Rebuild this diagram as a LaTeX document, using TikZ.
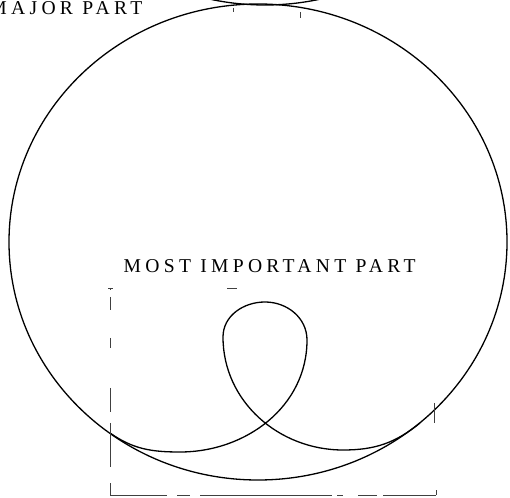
\documentclass[tikz,border=0pt]{standalone}
\usepackage{fontspec}
\setmainfont{Liberation Serif}
\begin{document}
\begin{tikzpicture}[x=1pt, y=1pt, line width=1.3pt,
    faint/.style={line width=0.6pt, black!75},
    lbl/.style={inner sep=0pt, font=\fontsize{19.6}{20}\selectfont\addfontfeatures{LetterSpace=22}}]
  \useasboundingbox (0,0) rectangle (510,497);
  \clip (0,0) rectangle (510,497);
  % outer circle
  \draw (258,255) ellipse[x radius=249, y radius=238];
  % bottom of the circle above
  \draw (265,730) ellipse[x radius=249, y radius=238];
  \draw[faint] (233,489) -- (233,485);
  \draw[faint] (300,485) -- (300,479);
  % loop
  \draw (110,64) to[out=-35,in=180] (180,45) to[out=0,in=-90] (307,157)
    to[out=90,in=0] (265,195) to[out=180,in=90] (223,160)
    to[out=-90,in=180] (343,47) to[out=0,in=219] (420,74);
  % dashed box round the loop
  \foreach \a/\b in {209/207, 200/187, 159/149, 109/85, 74/30, 14/2}{
    \draw[faint] (110,\a) -- (110,\b);
  }
  \foreach \a/\b in {110/167, 177/190, 200/332, 337/343, 358/377, 383/436}{
    \draw[faint] (\a,2) -- (\b,2);
  }
  \foreach \a/\b in {108/113, 227/237}{
    \draw[faint] (\a,209) -- (\b,209);
  }
  \draw[faint] (436,2) -- (436,7);
  \draw[faint] (434,94) -- (434,74);
  % labels
  \node[lbl, anchor=base east] (major) at (143,482) {MAJOR PART};
  \node[lbl, anchor=base west] (most) at (123,224) {MOST IMPORTANT PART};
\end{tikzpicture}
\end{document}
